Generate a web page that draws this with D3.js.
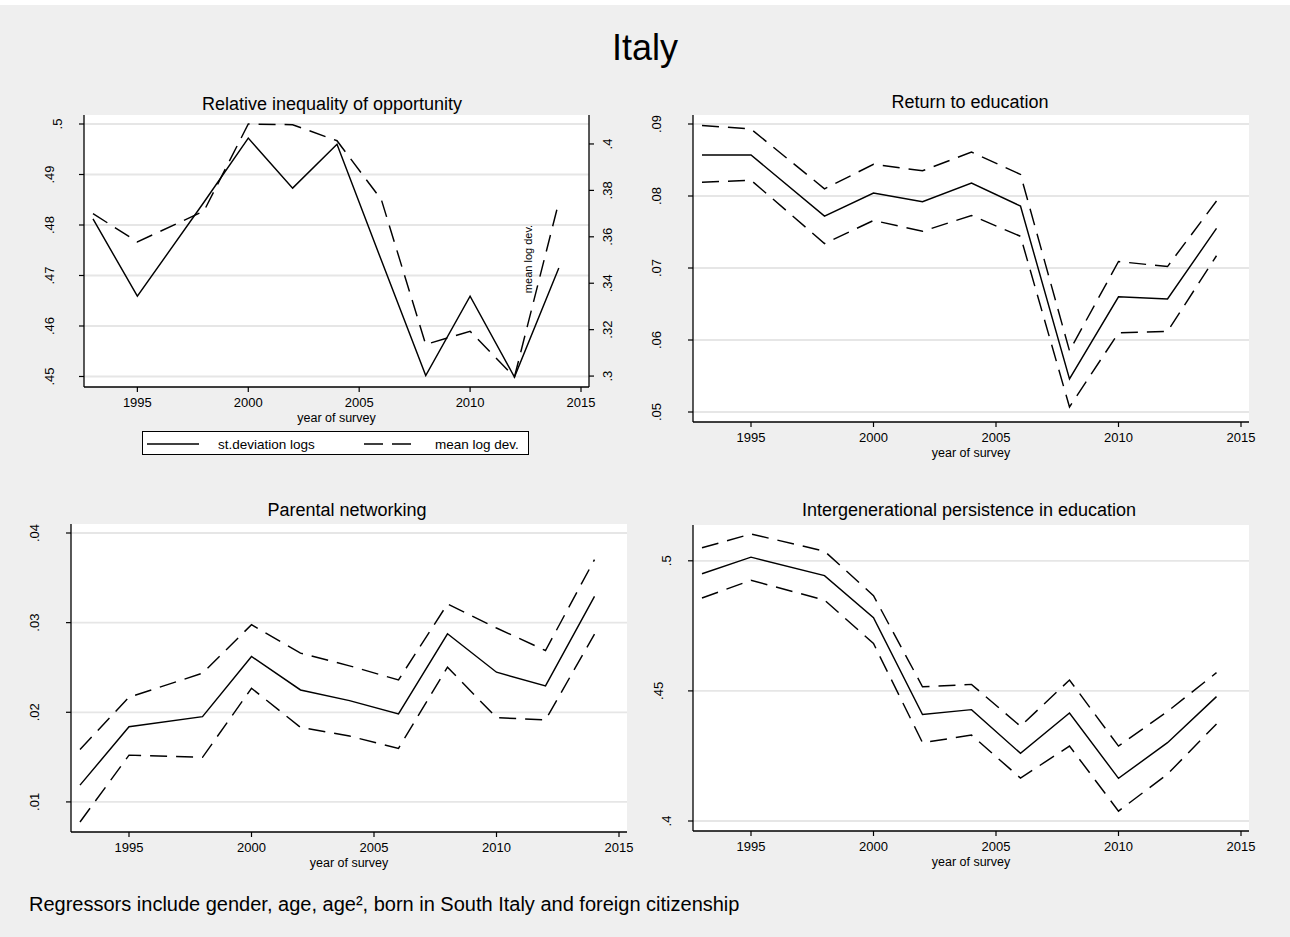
<!DOCTYPE html>
<html>
<head>
<meta charset="utf-8">
<script src="https://cdn.jsdelivr.net/npm/d3@7"></script>
<style>
  html, body { margin: 0; padding: 0; background: #efefef; }
  svg { display: block; }
  text { font-family: "Liberation Sans", Arial, Helvetica, sans-serif; fill: #000; }
</style>
</head>
<body>
<svg id="chart" width="1290" height="937"></svg>
<script>
// Survey years
const years = [1993, 1995, 1998, 2000, 2002, 2004, 2006, 2008, 2010, 2012, 2014];
const xTicks = [1995, 2000, 2005, 2010, 2015];

// Relative inequality of opportunity
const ineqSd  = [0.4812, 0.4659, 0.4845, 0.4972, 0.4873, 0.4960, 0.4730, 0.4502, 0.4659, 0.4499, 0.4715];
const ineqMld = [0.3700, 0.3578, 0.3711, 0.4086, 0.4083, 0.4014, 0.3760, 0.3136, 0.3193, 0.2996, 0.3750];
const ineqTicks  = [0.45, 0.46, 0.47, 0.48, 0.49, 0.50];
const ineqTicks2 = [0.30, 0.32, 0.34, 0.36, 0.38, 0.40];

// Return to education (estimate with confidence bounds)
const retEdu   = [0.0857, 0.0857, 0.0772, 0.0804, 0.0792, 0.0818, 0.0786, 0.0546, 0.0660, 0.0657, 0.0755];
const retEduHi = [0.0898, 0.0893, 0.0810, 0.0844, 0.0835, 0.0861, 0.0830, 0.0585, 0.0709, 0.0702, 0.0793];
const retEduLo = [0.0819, 0.0822, 0.0734, 0.0766, 0.0751, 0.0773, 0.0744, 0.0507, 0.0610, 0.0612, 0.0717];
const retEduTicks = [0.05, 0.06, 0.07, 0.08, 0.09];

// Parental networking
const netw   = [0.01187, 0.01839, 0.01951, 0.02622, 0.02249, 0.02130, 0.01981, 0.02876, 0.02447, 0.02294, 0.03293];
const netwHi = [0.01586, 0.02168, 0.02436, 0.02977, 0.02660, 0.02518, 0.02361, 0.03208, 0.02940, 0.02689, 0.03704];
const netwLo = [0.00776, 0.01522, 0.01497, 0.02268, 0.01832, 0.01735, 0.01597, 0.02503, 0.01940, 0.01914, 0.02872];
const netwTicks = [0.01, 0.02, 0.03, 0.04];

// Intergenerational persistence in education
const persist   = [0.4950, 0.5014, 0.4943, 0.4781, 0.4409, 0.4428, 0.4260, 0.4415, 0.4164, 0.4301, 0.4478];
const persistHi = [0.5050, 0.5103, 0.5037, 0.4866, 0.4516, 0.4525, 0.4364, 0.4542, 0.4288, 0.4421, 0.4570];
const persistLo = [0.4857, 0.4925, 0.4849, 0.4682, 0.4301, 0.4330, 0.4165, 0.4288, 0.4038, 0.4180, 0.4373];
const persistTicks = [0.40, 0.45, 0.50];

const legendLabels = ["st.deviation logs", "mean log dev."];

const W = 1290, H = 937;
const svg = d3.select("#chart");
const FONT_TICK = 13, FONT_AXT = 12.5, FONT_SUB = 18;
const DASH = "17,9";
const GRID = "#e6e6e6";

// Stata-style label: drop the leading zero
const fmt = v => {
  const s = d3.format("")(+v.toFixed(4));
  return s.replace(/^0\./, ".");
};

// Background and the thin white margin along the top
svg.append("rect").attr("width", W).attr("height", H).attr("fill", "#efefef");
svg.append("rect").attr("width", W).attr("height", 5).attr("fill", "#ffffff");

// Main title
svg.append("text").attr("x", 645).attr("y", 60).attr("text-anchor", "middle")
  .attr("font-size", 36).text("Italy");

function panel(cfg) {
  const g = svg.append("g");
  const { x0, x1, y0, y1 } = cfg.box;

  // x scale: data and tick extent mapped inside the plot region
  const xExt = d3.extent(years.concat(xTicks));
  const x = d3.scaleLinear().domain(xExt).range([x0 + 9, x1 - 8]);

  const allY = cfg.series.filter(s => !s.right).flatMap(s => s.values).concat(cfg.yTicks);
  const y = d3.scaleLinear().domain(d3.extent(allY)).range([y1 - 10, y0 + 9]);

  let y2 = null;
  if (cfg.y2Ticks) {
    const allY2 = cfg.series.filter(s => s.right).flatMap(s => s.values).concat(cfg.y2Ticks);
    y2 = d3.scaleLinear().domain(d3.extent(allY2)).range([y1 - 10, y0 + 9]);
  }

  // Plot region
  g.append("rect").attr("x", x0).attr("y", y0).attr("width", x1 - x0).attr("height", y1 - y0)
    .attr("fill", "#ffffff");

  // Horizontal grid lines at the left-axis ticks
  g.selectAll(".grid").data(cfg.yTicks).join("line")
    .attr("x1", x0).attr("x2", x1)
    .attr("y1", d => y(d)).attr("y2", d => y(d))
    .attr("stroke", GRID).attr("stroke-width", 1.8);

  // Series
  const line = sc => d3.line().x((d, i) => x(years[i])).y(d => sc(d));
  cfg.series.forEach(s => {
    g.append("path").datum(s.values)
      .attr("d", line(s.right ? y2 : y))
      .attr("fill", "none").attr("stroke", "#000")
      .attr("stroke-width", 1.45)
      .attr("stroke-dasharray", s.dashed ? DASH : null)
      .attr("stroke-linejoin", "miter");
  });

  // Axes
  const axisCol = "#000";
  // left
  g.append("line").attr("x1", x0).attr("x2", x0).attr("y1", y0).attr("y2", y1)
    .attr("stroke", axisCol).attr("stroke-width", 1.3);
  g.selectAll(".yt").data(cfg.yTicks).join("line")
    .attr("x1", x0 - 5).attr("x2", x0).attr("y1", d => y(d)).attr("y2", d => y(d))
    .attr("stroke", axisCol).attr("stroke-width", 1.2);
  g.selectAll(".yl").data(cfg.yTicks).join("text")
    .attr("transform", d => {
      const s = fmt(d);
      const bx = x0 - cfg.yLabOff + (3 - s.length) * cfg.yLabShift;
      return `translate(${bx},${y(d)}) rotate(-90)`;
    })
    .attr("text-anchor", "middle").attr("font-size", FONT_TICK).text(d => fmt(d));

  // bottom
  g.append("line").attr("x1", x0).attr("x2", x1).attr("y1", y1).attr("y2", y1)
    .attr("stroke", axisCol).attr("stroke-width", 1.3);
  g.selectAll(".xt").data(xTicks).join("line")
    .attr("x1", d => x(d)).attr("x2", d => x(d)).attr("y1", y1).attr("y2", y1 + 5)
    .attr("stroke", axisCol).attr("stroke-width", 1.2);
  g.selectAll(".xl").data(xTicks).join("text")
    .attr("x", d => x(d)).attr("y", y1 + 20).attr("text-anchor", "middle")
    .attr("font-size", FONT_TICK).text(d => d);
  g.append("text").attr("x", (x0 + x1) / 2).attr("y", y1 + 34.5).attr("text-anchor", "middle")
    .attr("font-size", FONT_AXT).text("year of survey");

  // right axis for the second measure
  if (y2) {
    g.append("line").attr("x1", x1).attr("x2", x1).attr("y1", y0).attr("y2", y1)
      .attr("stroke", axisCol).attr("stroke-width", 1.3);
    g.selectAll(".y2t").data(cfg.y2Ticks).join("line")
      .attr("x1", x1).attr("x2", x1 + 5).attr("y1", d => y2(d)).attr("y2", d => y2(d))
      .attr("stroke", axisCol).attr("stroke-width", 1.2);
    g.selectAll(".y2l").data(cfg.y2Ticks).join("text")
      .attr("transform", d => `translate(${x1 + 23},${y2(d)}) rotate(-90)`)
      .attr("text-anchor", "middle").attr("font-size", FONT_TICK).text(d => fmt(d));
    g.append("text")
      .attr("transform", `translate(${cfg.y2Title.x},${cfg.y2Title.y}) rotate(-90)`)
      .attr("text-anchor", "middle").attr("font-size", 11).text(cfg.y2Title.text);
  }

  // Title
  g.append("text").attr("x", cfg.titleX).attr("y", cfg.titleY).attr("text-anchor", "middle")
    .attr("font-size", FONT_SUB).text(cfg.title);

  return { g, x, y, y2 };
}

panel({
  box: { x0: 84, x1: 589, y0: 115, y1: 387 },
  title: "Relative inequality of opportunity", titleX: 332, titleY: 110,
  yTicks: ineqTicks, y2Ticks: ineqTicks2,
  yLabOff: 30, yLabShift: 8,
  y2Title: { text: legendLabels[1], x: 532, y: 259 },
  series: [
    { values: ineqSd, dashed: false },
    { values: ineqMld, dashed: true, right: true }
  ]
});

panel({
  box: { x0: 693, x1: 1249, y0: 115, y1: 422 },
  title: "Return to education", titleX: 970, titleY: 108,
  yTicks: retEduTicks, yLabOff: 32, yLabShift: 8,
  series: [
    { values: retEduHi, dashed: true },
    { values: retEdu, dashed: false },
    { values: retEduLo, dashed: true }
  ]
});

panel({
  box: { x0: 71, x1: 627, y0: 524, y1: 832 },
  title: "Parental networking", titleX: 347, titleY: 516,
  yTicks: netwTicks, yLabOff: 32, yLabShift: 8,
  series: [
    { values: netwHi, dashed: true },
    { values: netw, dashed: false },
    { values: netwLo, dashed: true }
  ]
});

panel({
  box: { x0: 693, x1: 1249, y0: 525, y1: 831 },
  title: "Intergenerational persistence in education", titleX: 969, titleY: 516,
  yTicks: persistTicks, yLabOff: 30, yLabShift: 8,
  series: [
    { values: persistHi, dashed: true },
    { values: persist, dashed: false },
    { values: persistLo, dashed: true }
  ]
});

// Legend for the first panel
const leg = svg.append("g");
leg.append("rect").attr("x", 142.5).attr("y", 431.5).attr("width", 386).attr("height", 23)
  .attr("fill", "#fff").attr("stroke", "#000").attr("stroke-width", 1);
leg.append("line").attr("x1", 147).attr("x2", 199).attr("y1", 444).attr("y2", 444)
  .attr("stroke", "#000").attr("stroke-width", 1.4);
leg.append("text").attr("x", 218).attr("y", 448.5).attr("font-size", 13.5).text(legendLabels[0]);
leg.append("line").attr("x1", 364).attr("x2", 412).attr("y1", 444).attr("y2", 444)
  .attr("stroke", "#000").attr("stroke-width", 1.4).attr("stroke-dasharray", "19,9");
leg.append("text").attr("x", 435).attr("y", 448.5).attr("font-size", 13.5).text(legendLabels[1]);

// Note
svg.append("text").attr("x", 29).attr("y", 911).attr("font-size", 20)
  .text("Regressors include gender, age, age², born in South Italy and foreign citizenship");
</script>
</body>
</html>
